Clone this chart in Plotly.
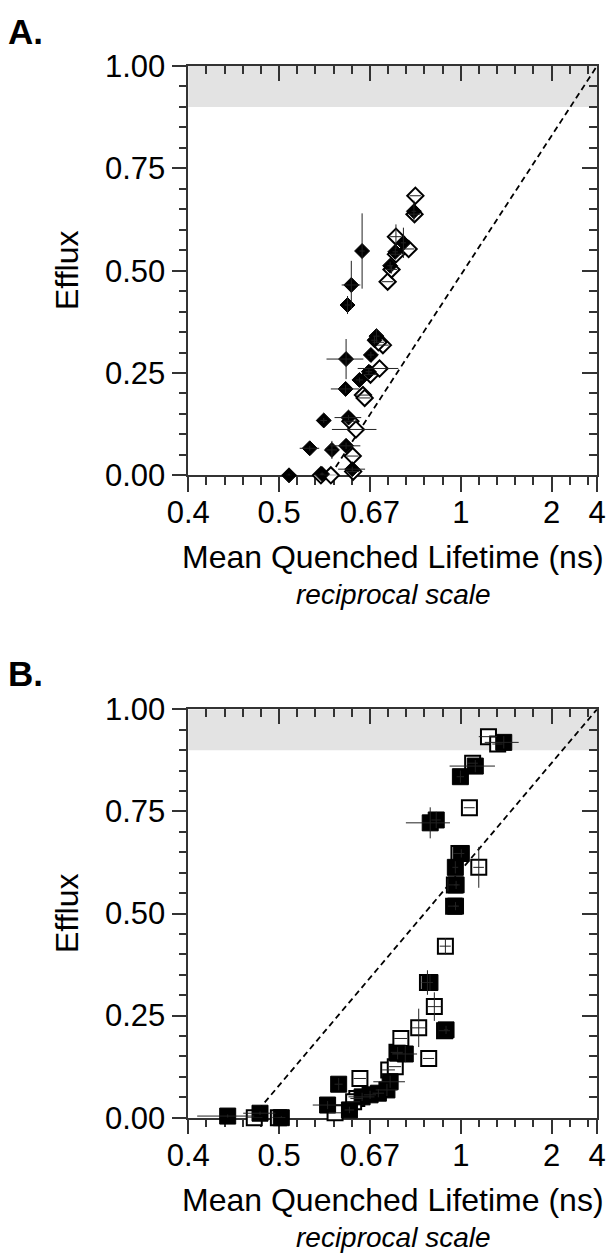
import plotly.graph_objects as go

W, H = 611, 1255

# ---------------- data ----------------
# Panel A (diamonds): lifetime (ns), efflux, lifetime err, efflux err
a_fill_t   = [0.514, 0.567, 0.546, 0.585, 0.570, 0.613, 0.626, 0.618, 0.612, 0.613, 0.642, 0.664, 0.669, 0.683, 0.678, 0.616, 0.624, 0.648, 0.720, 0.735, 0.760, 0.795]
a_fill_e   = [0.000, 0.003, 0.066, 0.062, 0.134, 0.072, 0.015, 0.141, 0.211, 0.284, 0.233, 0.253, 0.294, 0.340, 0.330, 0.416, 0.465, 0.548, 0.512, 0.546, 0.568, 0.645]
a_fill_dt  = [0.004, 0.004, 0.016, 0.010, 0.006, 0.031, 0.029, 0.028, 0.029, 0.038, 0.008, 0.008, 0.008, 0.008, 0.008, 0.006, 0.020, 0.006, 0.008, 0.008, 0.008, 0.008]
a_fill_de  = [0.004, 0.004, 0.006, 0.022, 0.006, 0.008, 0.006, 0.006, 0.010, 0.049, 0.006, 0.006, 0.008, 0.016, 0.010, 0.022, 0.059, 0.092, 0.010, 0.010, 0.037, 0.026]

a_open_t   = [0.565, 0.583, 0.627, 0.628, 0.622, 0.634, 0.650, 0.654, 0.668, 0.691, 0.700, 0.688, 0.713, 0.724, 0.737, 0.737, 0.777, 0.797, 0.800]
a_open_e   = [0.000, 0.000, 0.047, 0.009, 0.132, 0.112, 0.196, 0.189, 0.246, 0.261, 0.318, 0.325, 0.473, 0.503, 0.540, 0.583, 0.553, 0.638, 0.683]
a_open_dt  = [0.012, 0.012, 0.013, 0.013, 0.013, 0.049, 0.014, 0.014, 0.015, 0.053, 0.016, 0.015, 0.016, 0.017, 0.017, 0.017, 0.019, 0.020, 0.020]
a_open_de  = [0.000, 0.000, 0.000, 0.000, 0.000, 0.000, 0.000, 0.000, 0.000, 0.000, 0.000, 0.000, 0.000, 0.010, 0.000, 0.030, 0.000, 0.000, 0.000]

# Panel B (squares)
b_fill_t   = [0.438, 0.475, 0.503, 0.577, 0.598, 0.620, 0.648, 0.667, 0.688, 0.711, 0.720, 0.766, 0.742, 0.925, 0.855, 0.972, 0.975, 0.971, 1.003, 0.856, 0.881, 0.998, 1.087, 1.310]
b_fill_e   = [0.004, 0.011, 0.000, 0.031, 0.082, 0.019, 0.051, 0.056, 0.060, 0.068, 0.088, 0.156, 0.158, 0.215, 0.331, 0.518, 0.570, 0.613, 0.647, 0.722, 0.729, 0.835, 0.861, 0.919]
b_fill_dt  = [0.030, 0.020, 0.005, 0.026, 0.008, 0.010, 0.030, 0.015, 0.015, 0.030, 0.045, 0.040, 0.015, 0.010, 0.010, 0.010, 0.010, 0.015, 0.015, 0.088, 0.020, 0.020, 0.145, 0.158]
b_fill_de  = [0.004, 0.004, 0.004, 0.010, 0.015, 0.008, 0.010, 0.010, 0.010, 0.015, 0.015, 0.020, 0.015, 0.010, 0.020, 0.010, 0.010, 0.015, 0.010, 0.038, 0.020, 0.015, 0.015, 0.015]

b_open_t   = [0.468, 0.499, 0.591, 0.643, 0.636, 0.629, 0.716, 0.735, 0.740, 0.752, 0.812, 0.850, 0.918, 0.873, 0.845, 0.922, 0.962, 0.966, 0.990, 1.110, 1.050, 1.070, 1.180, 1.255]
b_open_e   = [0.000, 0.000, 0.012, 0.096, 0.047, 0.039, 0.117, 0.125, 0.160, 0.194, 0.220, 0.145, 0.213, 0.272, 0.331, 0.420, 0.518, 0.570, 0.647, 0.613, 0.759, 0.868, 0.933, 0.915]
b_open_dt  = [0.010, 0.010, 0.012, 0.014, 0.014, 0.014, 0.018, 0.018, 0.018, 0.020, 0.030, 0.022, 0.026, 0.030, 0.022, 0.026, 0.028, 0.028, 0.030, 0.036, 0.033, 0.034, 0.070, 0.045]
b_open_de  = [0.000, 0.000, 0.000, 0.000, 0.000, 0.000, 0.000, 0.000, 0.000, 0.000, 0.047, 0.000, 0.000, 0.035, 0.030, 0.020, 0.000, 0.000, 0.000, 0.050, 0.000, 0.000, 0.000, 0.000]

# dashed reference lines (lifetime, efflux)
a_line_t = [0.582, 4.0]
a_line_e = [0.0, 1.0]
b_line_t = [0.465, 4.0]
b_line_e = [0.0, 1.0]

tick_lifetimes = [0.4, 0.5, 2/3, 1.0, 2.0, 4.0]
tick_labels = ["0.4", "0.5", "0.67", "1", "2", "4"]
y_ticks = [0, 0.25, 0.5, 0.75, 1.0]
y_labels = ["0.00", "0.25", "0.50", "0.75", "1.00"]

# ---------------- helpers ----------------
def rx(t):
    return [-1.0 / v for v in t]

def xerr(t, dt):
    plus = [(-1.0 / (v + d)) - (-1.0 / v) for v, d in zip(t, dt)]
    minus = [(-1.0 / v) - (-1.0 / (v - d)) for v, d in zip(t, dt)]
    return plus, minus

def px_x(p):
    return p / W

def px_y(p):
    return 1 - p / H

FONT = "Liberation Sans, Arial, Helvetica, sans-serif"
INK = "#000000"
AX = "#333333"
FS = 31

xdom = [188.3 / W, 597.0 / W]
ydomA = [px_y(475.3), px_y(66.0)]
ydomB = [px_y(1117.7), px_y(709.3)]

fig = go.Figure()

def add_panel(xa, ya, ft, fe, fdt, fde, ot, oe, odt, ode, lt, le, symbol, fsize, osize):
    fig.add_trace(go.Scatter(x=rx(lt), y=le, mode="lines", xaxis=xa, yaxis=ya,
                             line=dict(color=INK, width=1.8, dash="6px,4px"),
                             showlegend=False, hoverinfo="skip", cliponaxis=False))
    fig.add_trace(go.Scatter(x=rx(ot), y=oe, mode="markers", xaxis=xa, yaxis=ya,
                             marker=dict(symbol=symbol, size=osize, color="white",
                                         line=dict(color=INK, width=2)),
                             showlegend=False, cliponaxis=False))
    fig.add_trace(go.Scatter(x=rx(ft), y=fe, mode="markers", xaxis=xa, yaxis=ya,
                             marker=dict(symbol=symbol, size=fsize, color=INK,
                                         line=dict(color=INK, width=1)),
                             showlegend=False, cliponaxis=False))
    for t, e, dt, de in ((ot, oe, odt, ode), (ft, fe, fdt, fde)):
        p, m = xerr(t, dt)
        fig.add_trace(go.Scatter(x=rx(t), y=e, mode="markers", xaxis=xa, yaxis=ya,
                                 marker=dict(size=1, color="rgba(0,0,0,0)"),
                                 error_x=dict(type="data", array=p, arrayminus=m, symmetric=False,
                                              color="#222", thickness=1, width=0),
                                 error_y=dict(type="data", array=de, color="#222", thickness=1, width=0),
                                 showlegend=False, hoverinfo="skip", cliponaxis=False))

add_panel("x", "y", a_fill_t, a_fill_e, a_fill_dt, a_fill_de,
          a_open_t, a_open_e, a_open_dt, a_open_de, a_line_t, a_line_e, "diamond", 11.5, 12.5)
add_panel("x2", "y2", b_fill_t, b_fill_e, b_fill_dt, b_fill_de,
          b_open_t, b_open_e, b_open_dt, b_open_de, b_line_t, b_line_e, "square", 16, 15)

for xa, ya in (("x3", "y"), ("x", "y3"), ("x4", "y2"), ("x2", "y4")):
    fig.add_trace(go.Scatter(x=[None], y=[None], xaxis=xa, yaxis=ya, showlegend=False))

xrange = [-2.5, -0.25]
xt = [-1.0 / v for v in tick_lifetimes]
major_set = set(round(v, 3) for v in xt)
minor_x = [round(-2.5 + 0.1 * i, 3) for i in range(1, 23)]
minor_x = [v for v in minor_x if round(v, 3) not in major_set and v < -0.25]

common = dict(showgrid=False, zeroline=False, automargin=False, showline=True,
              linecolor=AX, linewidth=1.5, tickwidth=1.5, tickcolor=AX, layer="below traces")

def xaxis_main(dom, anchor):
    return dict(domain=dom, anchor=anchor, range=xrange, tickmode="array", tickvals=xt,
                ticktext=tick_labels, ticks="outside", ticklen=15, ticklabelstandoff=-6,
                minor=dict(tickmode="array", tickvals=minor_x, ticks="outside", ticklen=8,
                           tickwidth=1.5, tickcolor=AX),
                tickfont=dict(size=FS, color=INK, family=FONT), fixedrange=True, **common)

def xaxis_top(over, anchor):
    return dict(overlaying=over, anchor=anchor, side="top", range=xrange, tickmode="array",
                tickvals=xt, showticklabels=False, ticks="inside", ticklen=15,
                minor=dict(tickmode="array", tickvals=minor_x, ticks="inside", ticklen=8,
                           tickwidth=1.5, tickcolor=AX), **common)

def yaxis_main(dom, anchor):
    return dict(domain=dom, anchor=anchor, range=[0, 1], tickmode="array", tickvals=y_ticks,
                ticktext=y_labels, ticks="outside", ticklen=15,
                minor=dict(tick0=0, dtick=0.05, ticks="outside", ticklen=8, tickwidth=1.5,
                           tickcolor=AX),
                tickfont=dict(size=FS, color=INK, family=FONT), fixedrange=True, **common)

def yaxis_right(over, anchor):
    return dict(overlaying=over, anchor=anchor, side="right", range=[0, 1], tickmode="array",
                tickvals=y_ticks, showticklabels=False, ticks="inside", ticklen=15,
                minor=dict(tick0=0, dtick=0.05, ticks="inside", ticklen=8, tickwidth=1.5,
                           tickcolor=AX), **common)

fig.update_layout(
    width=W, height=H, margin=dict(l=0, r=0, t=0, b=0, autoexpand=False),
    paper_bgcolor="white", plot_bgcolor="white",
    font=dict(family=FONT, color=INK, size=FS),
    xaxis=xaxis_main(xdom, "y"), yaxis=yaxis_main(ydomA, "x"),
    xaxis2=xaxis_main(xdom, "y2"), yaxis2=yaxis_main(ydomB, "x2"),
    xaxis3=xaxis_top("x", "y"), yaxis3=yaxis_right("y", "x"),
    xaxis4=xaxis_top("x2", "y2"), yaxis4=yaxis_right("y2", "x2"),
    showlegend=False,
)

for yr in ("y", "y2"):
    xr = "x domain" if yr == "y" else "x2 domain"
    fig.add_shape(type="rect", xref=xr, yref=yr, x0=0, x1=1, y0=0.9, y1=1.0,
                  fillcolor="#e3e3e3", line=dict(width=0), layer="below")

def ann(text, x, y, size, xanchor="center", yanchor="middle", angle=0, bold=False, italic=False):
    if bold:
        text = "<b>" + text + "</b>"
    if italic:
        text = "<i>" + text + "</i>"
    fig.add_annotation(text=text, x=px_x(x), y=px_y(y), xref="paper", yref="paper",
                       xanchor=xanchor, yanchor=yanchor, showarrow=False, textangle=angle,
                       font=dict(size=size, family=FONT, color=INK))

for off, lab in ((0, "A."), (643, "B.")):
    ann(lab, 6, 31 + off, 35, xanchor="left", bold=True)
    ann("Efflux", 67, 271 + off, 32, angle=-90)
    ann("Mean Quenched Lifetime (ns)", 393, 557 + off, 32)
    ann("reciprocal scale", 393, 594 + off, 28, italic=True)

fig.write_html("out.html")
